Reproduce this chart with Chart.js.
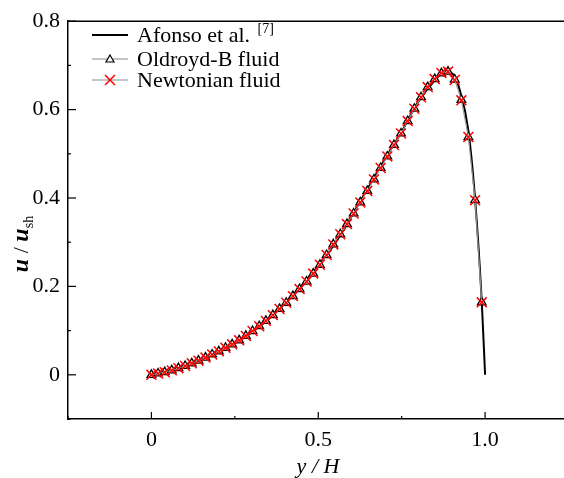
<!DOCTYPE html>
<html>
<head>
<meta charset="utf-8">
<script src="https://cdn.jsdelivr.net/npm/chart.js@4/dist/chart.umd.min.js"></script>
<style>
  html, body { margin: 0; padding: 0; background: #fff; overflow: hidden; }
  #wrap { width: 580px; height: 478px; }
</style>
</head>
<body>
<div id="wrap"><canvas id="chart" width="580" height="478"></canvas></div>
<script>
// Velocity profile u/u_sh across the channel (y/H).

var SERIF = "'Liberation Serif', 'Times New Roman', serif";

// Afonso et al. reference curve
var afonsoX = [0, 0.05, 0.10, 0.15, 0.20, 0.25, 0.30, 0.35, 0.40, 0.45, 0.50, 0.55, 0.60, 0.65,
               0.70, 0.75, 0.80, 0.85, 0.875, 0.90, 0.925, 0.95, 0.97, 0.99, 1.0];
var afonsoU = [0, 0.008, 0.021, 0.036, 0.052, 0.072, 0.096, 0.125, 0.161, 0.201, 0.247, 0.297,
               0.359, 0.424, 0.488, 0.550, 0.618, 0.667, 0.683, 0.682, 0.642, 0.552, 0.398, 0.166, 0];

// simulation sample positions
var simX = [0, 0.020, 0.040, 0.061, 0.081, 0.101, 0.121, 0.141, 0.162, 0.182,
            0.202, 0.222, 0.242, 0.263, 0.283, 0.303, 0.323, 0.343, 0.364, 0.384,
            0.404, 0.424, 0.444, 0.465, 0.485, 0.505, 0.525, 0.545, 0.566, 0.586,
            0.606, 0.626, 0.647, 0.667, 0.687, 0.707, 0.727, 0.748, 0.768, 0.788,
            0.808, 0.828, 0.849, 0.869, 0.889, 0.909, 0.929, 0.950, 0.970, 0.990];

var oldroydU = [0, 0.003, 0.006, 0.010, 0.015, 0.020, 0.026, 0.032, 0.039, 0.046,
                0.053, 0.061, 0.069, 0.078, 0.088, 0.099, 0.110, 0.122, 0.135, 0.149,
                0.163, 0.178, 0.194, 0.211, 0.229, 0.249, 0.271, 0.295, 0.318, 0.341,
                0.365, 0.390, 0.416, 0.442, 0.468, 0.494, 0.520, 0.546, 0.574, 0.602,
                0.628, 0.651, 0.669, 0.682, 0.686, 0.668, 0.622, 0.538, 0.395, 0.164];

var newtonU  = [0, 0.003, 0.006, 0.010, 0.015, 0.020, 0.026, 0.032, 0.039, 0.046,
                0.053, 0.061, 0.069, 0.078, 0.088, 0.099, 0.110, 0.122, 0.135, 0.149,
                0.163, 0.178, 0.194, 0.211, 0.229, 0.249, 0.271, 0.295, 0.318, 0.341,
                0.365, 0.390, 0.416, 0.442, 0.468, 0.494, 0.520, 0.546, 0.574, 0.602,
                0.628, 0.651, 0.669, 0.683, 0.686, 0.667, 0.621, 0.538, 0.395, 0.164];

var xMajor = [0, 0.5, 1.0];
var xLabels = ["0", "0.5", "1.0"];
var yMajor = [0, 0.2, 0.4, 0.6, 0.8];
var yLabels = ["0", "0.2", "0.4", "0.6", "0.8"];

function _pts(xs, ys) {
  return xs.map(function(x, i) { return { x: x, y: ys[i] }; });
}

function _findLabel(v, majors, labels) {
  for (var i = 0; i < majors.length; i++) {
    if (Math.abs(v - majors[i]) < 1e-6) return labels[i];
  }
  return "";
}

// inward tick marks, top frame, axis titles and legend
var decorPlugin = {
  id: "decor",
  afterDraw: function(chart) {
    var ctx = chart.ctx;
    var a = chart.chartArea;
    var xs = chart.scales.x, ys = chart.scales.y;
    ctx.save();
    ctx.strokeStyle = "#000";
    ctx.lineWidth = 1.5;

    ctx.beginPath();
    ctx.moveTo(a.left, a.top);
    ctx.lineTo(a.right + 20, a.top);
    ctx.stroke();

    ctx.lineWidth = 1.2;
    xs.ticks.forEach(function(t) {
      var px = xs.getPixelForValue(t.value);
      var len = _findLabel(t.value, xMajor, xLabels) ? 7 : 3;
      ctx.beginPath();
      ctx.moveTo(px, a.bottom);
      ctx.lineTo(px, a.bottom - len);
      ctx.stroke();
    });
    ys.ticks.forEach(function(t) {
      var py = ys.getPixelForValue(t.value);
      var len = _findLabel(t.value, yMajor, yLabels) ? 8 : 3;
      ctx.beginPath();
      ctx.moveTo(a.left, py);
      ctx.lineTo(a.left + len, py);
      ctx.stroke();
    });

    // x title
    ctx.fillStyle = "#000";
    ctx.textBaseline = "alphabetic";
    ctx.textAlign = "center";
    ctx.font = "italic 22px " + SERIF;
    ctx.fillText("y / H", 318, 473);

    // y title, rotated
    ctx.save();
    ctx.translate(28, 244);
    ctx.rotate(-Math.PI / 2);
    ctx.textAlign = "left";
    var parts = [
      { t: "u", f: "italic bold 24px " + SERIF, dy: 0 },
      { t: " / ", f: "22px " + SERIF, dy: 0 },
      { t: "u", f: "italic bold 24px " + SERIF, dy: 0 },
      { t: "sh", f: "14px " + SERIF, dy: 5 }
    ];
    var total = 0;
    parts.forEach(function(p) { ctx.font = p.f; total += ctx.measureText(p.t).width; });
    var cx = -total / 2;
    parts.forEach(function(p) {
      ctx.font = p.f;
      ctx.fillText(p.t, cx, p.dy);
      cx += ctx.measureText(p.t).width;
    });
    ctx.restore();

    // legend
    var lx0 = 92, lx1 = 128, tx = 137;
    ctx.textAlign = "left";
    ctx.font = "22px " + SERIF;

    ctx.strokeStyle = "#000";
    ctx.lineWidth = 2;
    ctx.beginPath(); ctx.moveTo(lx0, 35); ctx.lineTo(lx1, 35); ctx.stroke();
    ctx.fillText("Afonso et al.", tx, 42);
    var w = ctx.measureText("Afonso et al. ").width;
    ctx.font = "14px " + SERIF;
    ctx.fillText("[7]", tx + w + 2, 33);

    ctx.font = "22px " + SERIF;
    ctx.strokeStyle = "#888";
    ctx.lineWidth = 1;
    ctx.beginPath(); ctx.moveTo(lx0, 59); ctx.lineTo(lx1, 59); ctx.stroke();
    ctx.fillStyle = "#fff";
    ctx.strokeStyle = "#000";
    ctx.lineWidth = 1.2;
    ctx.beginPath();
    ctx.moveTo(110, 55); ctx.lineTo(114, 62); ctx.lineTo(106, 62); ctx.closePath();
    ctx.fill(); ctx.stroke();
    ctx.fillStyle = "#000";
    ctx.fillText("Oldroyd-B fluid", tx, 66);

    ctx.strokeStyle = "#888";
    ctx.lineWidth = 1;
    ctx.beginPath(); ctx.moveTo(lx0, 80); ctx.lineTo(lx1, 80); ctx.stroke();
    ctx.strokeStyle = "#ff0000";
    ctx.lineWidth = 1.5;
    ctx.beginPath();
    ctx.moveTo(105, 75); ctx.lineTo(115, 85);
    ctx.moveTo(115, 75); ctx.lineTo(105, 85);
    ctx.stroke();
    ctx.fillText("Newtonian fluid", tx, 87);

    ctx.restore();
  }
};

new Chart(document.getElementById("chart"), {
  type: "scatter",
  data: {
    datasets: [
      {
        label: "Newtonian fluid",
        data: _pts(simX, newtonU),
        showLine: true,
        borderColor: "#999",
        borderWidth: 0.8,
        pointStyle: "crossRot",
        pointRadius: 7,
        pointBorderColor: "#ff0000",
        pointBorderWidth: 1.5,
        pointBackgroundColor: "#ff0000",
        order: 0,
      },
      {
        label: "Oldroyd-B fluid",
        data: _pts(simX, oldroydU),
        showLine: true,
        borderColor: "#999",
        borderWidth: 0.8,
        pointStyle: "triangle",
        pointRadius: 5,
        pointBorderColor: "#000",
        pointBorderWidth: 1.3,
        pointBackgroundColor: "#fff",
        order: 1,
      },
      {
        label: "Afonso et al.",
        data: _pts(afonsoX, afonsoU),
        showLine: true,
        borderColor: "#000",
        borderWidth: 2,
        pointRadius: 0,
        cubicInterpolationMode: "monotone",
        order: 2,
      },
    ],
  },
  options: {
    responsive: false,
    animation: false,
    devicePixelRatio: 1,
    layout: { padding: { left: 0, right: 11.5, top: 17, bottom: 0 } },
    plugins: { legend: { display: false }, tooltip: { enabled: false } },
    scales: {
      x: {
        type: "linear",
        min: -0.25,
        max: 1.25,
        afterFit: function(s) { s.height = 59; },
        grid: { display: false, drawTicks: false },
        border: { display: true, color: "#000", width: 1.5 },
        ticks: {
          stepSize: 0.25,
          autoSkip: false,
          maxRotation: 0,
          padding: 8,
          color: "#000",
          font: { family: SERIF, size: 22 },
          callback: function(v) { return _findLabel(v, xMajor, xLabels); },
        },
      },
      y: {
        type: "linear",
        min: -0.1,
        max: 0.8,
        afterFit: function(s) { s.width = 68; },
        grid: { display: false, drawTicks: false },
        border: { display: true, color: "#000", width: 1.5 },
        ticks: {
          stepSize: 0.1,
          autoSkip: false,
          padding: 8,
          color: "#000",
          font: { family: SERIF, size: 22 },
          callback: function(v) { return _findLabel(v, yMajor, yLabels); },
        },
      },
    },
  },
  plugins: [decorPlugin],
});
</script>
</body>
</html>
